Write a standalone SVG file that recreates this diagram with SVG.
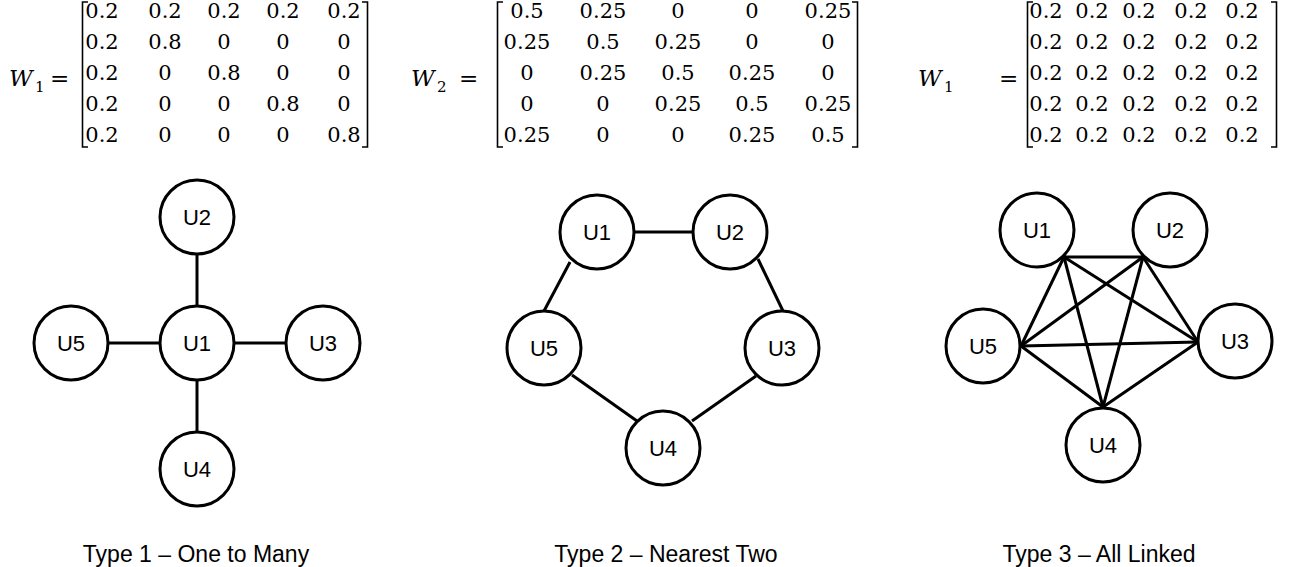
<svg xmlns="http://www.w3.org/2000/svg" width="1299" height="567" viewBox="0 0 1299 567">
<style>
.m{font-family:"DejaVu Serif","Liberation Serif",serif;font-size:21px;fill:#000;text-anchor:middle}
.w{font-family:"DejaVu Serif","Liberation Serif",serif;font-size:23px;font-style:italic;fill:#000}
.sub{font-family:"DejaVu Serif","Liberation Serif",serif;font-size:15px;fill:#000}
.eq{font-family:"DejaVu Serif","Liberation Serif",serif;font-size:23px;fill:#000}
.br{fill:none;stroke:#000;stroke-width:1.6}
.n circle{fill:#fff;stroke:#000;stroke-width:3}
.n text{font-family:"Liberation Sans",Arial,sans-serif;font-size:22px;fill:#000;text-anchor:middle}
.e line{stroke:#000;stroke-width:3;stroke-linecap:butt}
.cap{font-family:"Liberation Sans",Arial,sans-serif;font-size:23px;fill:#000;text-anchor:middle}
</style>
<rect width="1299" height="567" fill="#fff"/>

<g id="matrix1">
<text class="w" x="9" y="86">W</text><text class="sub" x="35" y="92">1</text>
<text class="eq" x="50" y="86">=</text>
<path class="br" d="M88 2H82.5V147H88"/>
<path class="br" d="M362 2H367.5V147H362"/>
<g class="m">
<text x="102" y="18">0.2</text><text x="165" y="18">0.2</text><text x="224" y="18">0.2</text><text x="283" y="18">0.2</text><text x="344" y="18">0.2</text>
<text x="102" y="49">0.2</text><text x="165" y="49">0.8</text><text x="224" y="49">0</text><text x="283" y="49">0</text><text x="344" y="49">0</text>
<text x="102" y="80">0.2</text><text x="165" y="80">0</text><text x="224" y="80">0.8</text><text x="283" y="80">0</text><text x="344" y="80">0</text>
<text x="102" y="111">0.2</text><text x="165" y="111">0</text><text x="224" y="111">0</text><text x="283" y="111">0.8</text><text x="344" y="111">0</text>
<text x="102" y="142">0.2</text><text x="165" y="142">0</text><text x="224" y="142">0</text><text x="283" y="142">0</text><text x="344" y="142">0.8</text>
</g>
</g>

<g id="matrix2">
<text class="w" x="411" y="86">W</text><text class="sub" x="437" y="92">2</text>
<text class="eq" x="459" y="86">=</text>
<path class="br" d="M503 2H497.5V147H503"/>
<path class="br" d="M852 2H857.5V147H852"/>
<g class="m">
<text x="527" y="18">0.5</text><text x="603" y="18">0.25</text><text x="678" y="18">0</text><text x="752" y="18">0</text><text x="828" y="18">0.25</text>
<text x="527" y="49">0.25</text><text x="603" y="49">0.5</text><text x="678" y="49">0.25</text><text x="752" y="49">0</text><text x="828" y="49">0</text>
<text x="527" y="80">0</text><text x="603" y="80">0.25</text><text x="678" y="80">0.5</text><text x="752" y="80">0.25</text><text x="828" y="80">0</text>
<text x="527" y="111">0</text><text x="603" y="111">0</text><text x="678" y="111">0.25</text><text x="752" y="111">0.5</text><text x="828" y="111">0.25</text>
<text x="527" y="142">0.25</text><text x="603" y="142">0</text><text x="678" y="142">0</text><text x="752" y="142">0.25</text><text x="828" y="142">0.5</text>
</g>
</g>

<g id="matrix3">
<text class="w" x="918" y="86">W</text><text class="sub" x="944" y="92">1</text>
<text class="eq" x="999" y="86">=</text>
<path class="br" d="M1033 2H1027.5V147H1033"/>
<path class="br" d="M1271 2H1276.5V147H1271"/>
<g class="m">
<text x="1046" y="18">0.2</text><text x="1092" y="18">0.2</text><text x="1139" y="18">0.2</text><text x="1191" y="18">0.2</text><text x="1242" y="18">0.2</text>
<text x="1046" y="49">0.2</text><text x="1092" y="49">0.2</text><text x="1139" y="49">0.2</text><text x="1191" y="49">0.2</text><text x="1242" y="49">0.2</text>
<text x="1046" y="80">0.2</text><text x="1092" y="80">0.2</text><text x="1139" y="80">0.2</text><text x="1191" y="80">0.2</text><text x="1242" y="80">0.2</text>
<text x="1046" y="111">0.2</text><text x="1092" y="111">0.2</text><text x="1139" y="111">0.2</text><text x="1191" y="111">0.2</text><text x="1242" y="111">0.2</text>
<text x="1046" y="142">0.2</text><text x="1092" y="142">0.2</text><text x="1139" y="142">0.2</text><text x="1191" y="142">0.2</text><text x="1242" y="142">0.2</text>
</g>
</g>

<g id="connectors" class="e">
<line x1="197" y1="254" x2="197" y2="306"/>
<line x1="108" y1="343" x2="160" y2="343"/>
<line x1="234" y1="343" x2="286" y2="343"/>
<line x1="197" y1="380" x2="197" y2="432"/>

<line x1="634" y1="232" x2="693" y2="232"/>
<line x1="570" y1="262" x2="544" y2="311"/>
<line x1="758" y1="259" x2="783" y2="311"/>
<line x1="572" y1="375" x2="637" y2="421"/>
<line x1="756" y1="376" x2="692" y2="421"/>

<line x1="1064" y1="257" x2="1143" y2="257"/>
<line x1="1064" y1="257" x2="1021" y2="346"/>
<line x1="1064" y1="257" x2="1198" y2="342"/>
<line x1="1064" y1="257" x2="1103" y2="407"/>
<line x1="1143" y1="257" x2="1021" y2="346"/>
<line x1="1143" y1="257" x2="1198" y2="342"/>
<line x1="1143" y1="257" x2="1103" y2="407"/>
<line x1="1021" y1="346" x2="1198" y2="342"/>
<line x1="1021" y1="346" x2="1103" y2="407"/>
<line x1="1198" y1="342" x2="1103" y2="407"/>
</g>

<g id="t1-u1" class="n"><circle cx="197" cy="343" r="37"/><text x="197" y="351">U1</text></g>
<g id="t1-u2" class="n"><circle cx="197" cy="217" r="37"/><text x="197" y="225">U2</text></g>
<g id="t1-u3" class="n"><circle cx="323" cy="343" r="37"/><text x="323" y="351">U3</text></g>
<g id="t1-u4" class="n"><circle cx="197" cy="469" r="37"/><text x="197" y="477">U4</text></g>
<g id="t1-u5" class="n"><circle cx="71" cy="343" r="37"/><text x="71" y="351">U5</text></g>

<g id="t2-u1" class="n"><circle cx="597" cy="232" r="37"/><text x="597" y="240">U1</text></g>
<g id="t2-u2" class="n"><circle cx="730" cy="232" r="37"/><text x="730" y="240">U2</text></g>
<g id="t2-u3" class="n"><circle cx="782" cy="348" r="37"/><text x="782" y="356">U3</text></g>
<g id="t2-u4" class="n"><circle cx="663" cy="448" r="37"/><text x="663" y="456">U4</text></g>
<g id="t2-u5" class="n"><circle cx="544" cy="348" r="37"/><text x="544" y="356">U5</text></g>

<g id="t3-u1" class="n"><circle cx="1037" cy="230" r="37"/><text x="1037" y="238">U1</text></g>
<g id="t3-u2" class="n"><circle cx="1170" cy="230" r="37"/><text x="1170" y="238">U2</text></g>
<g id="t3-u3" class="n"><circle cx="1235" cy="341" r="37"/><text x="1235" y="349">U3</text></g>
<g id="t3-u4" class="n"><circle cx="1103" cy="445" r="37"/><text x="1103" y="453">U4</text></g>
<g id="t3-u5" class="n"><circle cx="983" cy="346" r="37"/><text x="983" y="354">U5</text></g>

<g id="captions">
<text class="cap" x="196" y="562">Type 1 – One to Many</text>
<text class="cap" x="666" y="562">Type 2 – Nearest Two</text>
<text class="cap" x="1099" y="562">Type 3 – All Linked</text>
</g>
</svg>
